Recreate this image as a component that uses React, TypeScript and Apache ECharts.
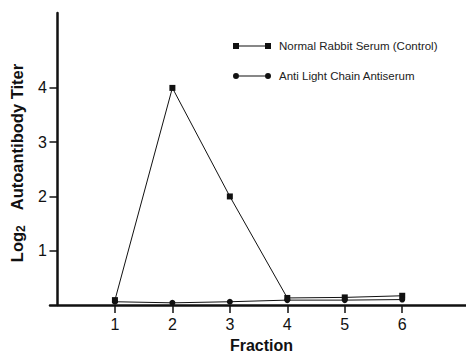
import React, { useEffect, useRef } from "react";
import * as echarts from "echarts";

const fractions = [1, 2, 3, 4, 5, 6];
const normalRabbitSerum = [0.09, 4, 2, 0.13, 0.14, 0.17];
const antiLightChain = [0.06, 0.04, 0.06, 0.09, 0.09, 0.1];
const xTicks = [1, 2, 3, 4, 5, 6];
const yTicks = [1, 2, 3, 4];
const seriesNames = ["Normal Rabbit Serum (Control)", "Anti Light Chain Antiserum"];

const FONT = "'Liberation Sans', Arial, Helvetica, sans-serif";
const INK = "#111";

const squareIcon = "path://M0,0h6v6h-6z M6,2.5h26v1h-26z M32,0h6v6h-6z";
const circleIcon =
  "path://M0,3a3,3 0 1,0 6,0a3,3 0 1,0 -6,0z M6,2.5h26v1h-26z M32,3a3,3 0 1,0 6,0a3,3 0 1,0 -6,0z";

export default function App() {
  const ref = useRef<HTMLDivElement>(null);
  useEffect(() => {
    if (!ref.current) return;
    const chart = echarts.init(ref.current, null, { renderer: "svg" });
    chart.setOption({
      animation: false,
      backgroundColor: "#fff",
      textStyle: { fontFamily: FONT },
      grid: { left: 50, right: 0, top: 13, bottom: 49, containLabel: false, outerBoundsMode: "none" },
      legend: {
        orient: "vertical",
        left: 233,
        top: 40,
        padding: 0,
        itemWidth: 38,
        itemHeight: 6,
        itemGap: 18,
        textStyle: { fontSize: 11.5, color: "#222", fontFamily: FONT, padding: [0, 0, 0, 3] },
        data: [
          { name: seriesNames[0], icon: squareIcon, itemStyle: { color: INK } },
          { name: seriesNames[1], icon: circleIcon, itemStyle: { color: INK } },
        ],
      },
      xAxis: {
        type: "value",
        min: -0.13,
        max: 7.11,
        interval: 1,
        name: "Fraction",
        nameLocation: "middle",
        nameGap: 32,
        nameTextStyle: {
          fontSize: 16,
          fontWeight: "bold",
          color: INK,
          fontFamily: FONT,
          padding: [0, 0, 0, 7],
        },
        splitLine: { show: false },
        axisLine: { show: true, lineStyle: { color: INK, width: 2.5 } },
        axisTick: { show: true, length: 8, customValues: xTicks, lineStyle: { color: INK, width: 1.5 } },
        axisLabel: {
          customValues: xTicks,
          margin: 11,
          fontSize: 16,
          color: INK,
          fontFamily: FONT,
        },
      },
      yAxis: {
        type: "value",
        min: 0,
        max: 5.38,
        interval: 1,
        name: "{a|Log}{s|2}{g|}{a|Autoantibody Titer}",
        nameLocation: "middle",
        nameGap: 11,
        nameRotate: 90,
        nameTextStyle: {
          padding: [0, 8, 0, 0],
          rich: {
            a: { fontSize: 16.5, fontWeight: "bold", color: INK, fontFamily: FONT, lineHeight: 20 },
            g: { width: 15, lineHeight: 20 },
            s: {
              fontSize: 12,
              fontWeight: "bold",
              color: INK,
              fontFamily: FONT,
              lineHeight: 20,
              padding: [9, 0, 0, 0],
            },
          },
        },
        splitLine: { show: false },
        axisLine: { show: true, onZero: true, lineStyle: { color: INK, width: 2.5 } },
        axisTick: { show: true, length: 8, customValues: yTicks, lineStyle: { color: INK, width: 1.5 } },
        axisLabel: {
          customValues: yTicks,
          margin: 3,
          fontSize: 16,
          color: INK,
          fontFamily: FONT,
        },
      },
      series: [
        {
          name: seriesNames[0],
          type: "line",
          data: fractions.map((f, i) => [f, normalRabbitSerum[i]]),
          symbol: "rect",
          symbolSize: 6,
          lineStyle: { color: INK, width: 1 },
          itemStyle: { color: INK },
          z: 3,
        },
        {
          name: seriesNames[1],
          type: "line",
          data: fractions.map((f, i) => [f, antiLightChain[i]]),
          symbol: "circle",
          symbolSize: 6,
          lineStyle: { color: INK, width: 1 },
          itemStyle: { color: INK },
          z: 3,
        },
      ],
    });
    return () => chart.dispose();
  }, []);
  return <div ref={ref} style={{ width: 466, height: 354, position: "absolute", left: 0, top: 0 }} />;
}
